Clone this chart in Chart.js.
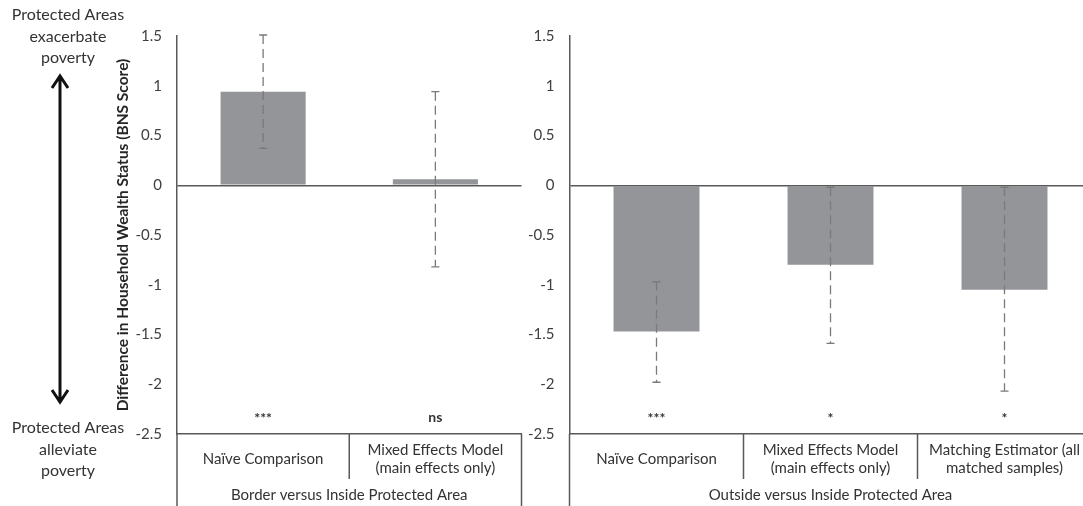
<!DOCTYPE html>
<html>
<head>
<meta charset="utf-8">
<script src="https://cdn.jsdelivr.net/npm/chart.js@4.4.0/dist/chart.umd.min.js"></script>
<style>
  html, body { margin: 0; padding: 0; background: #fff; overflow: hidden; }
  #wrap { position: relative; width: 1083px; height: 506px; overflow: hidden; }
  #left { position: absolute; left: 0; top: 0; }
  #right { position: absolute; left: 525px; top: 0; }
</style>
</head>
<body>
<div id="wrap">
  <canvas id="left" width="530" height="506"></canvas>
  <canvas id="right" width="600" height="506"></canvas>
</div>
<script>
// left panel: border versus inside
var leftCategories = ['Naïve Comparison', ['Mixed Effects Model', '(main effects only)']];
var leftValues = [0.94, 0.06];
var leftErrLow = [0.37, -0.82];
var leftErrHigh = [1.51, 0.94];
var leftSig = ['***', 'ns'];
var leftGroup = 'Border versus Inside Protected Area';

// right panel: outside versus inside
var rightCategories = ['Naïve Comparison', ['Mixed Effects Model', '(main effects only)'], ['Matching Estimator (all', 'matched samples)']];
var rightValues = [-1.47, -0.80, -1.05];
var rightErrLow = [-1.98, -1.59, -2.07];
var rightErrHigh = [-0.97, -0.02, -0.02];
var rightSig = ['***', '*', '*'];
var rightGroup = 'Outside versus Inside Protected Area';

var yMin = -2.5, yMax = 1.5, yStep = 0.5;
var sigLevel = -2.32;

var FONT = 'Lato, "Open Sans", sans-serif';
var LINE = '#595959';
var TEXT = '#333333';

var extrasPlugin = {
  id: 'extras',
  afterDraw: function (chart, args, o) {
    var ctx = chart.ctx, x = chart.scales.x, y = chart.scales.y, a = chart.chartArea;
    ctx.save();

    // error bars
    ctx.strokeStyle = '#7a7a7a';
    ctx.lineWidth = 1.3;
    o.low.forEach(function (lo, i) {
      var px = x.getPixelForValue(i);
      var y1 = y.getPixelForValue(lo), y2 = y.getPixelForValue(o.high[i]);
      ctx.setLineDash([9, 5]);
      ctx.beginPath(); ctx.moveTo(px, y2); ctx.lineTo(px, y1); ctx.stroke();
      ctx.setLineDash([]);
      ctx.beginPath();
      ctx.moveTo(px - 4, y1); ctx.lineTo(px + 4, y1);
      ctx.moveTo(px - 4, y2); ctx.lineTo(px + 4, y2);
      ctx.stroke();
    });

    // significance marks
    ctx.fillStyle = TEXT;
    ctx.textAlign = 'center';
    ctx.textBaseline = 'middle';
    o.sig.forEach(function (s, i) {
      ctx.font = 'bold 14px ' + FONT;
      ctx.fillText(s, x.getPixelForValue(i), y.getPixelForValue(sigLevel) + (s === 'ns' ? 1 : 2));
    });

    // table lines below the plot
    ctx.strokeStyle = LINE;
    ctx.lineWidth = 1.5;
    ctx.beginPath();
    ctx.moveTo(a.left, a.bottom); ctx.lineTo(a.left, chart.height);
    ctx.moveTo(a.right, a.bottom); ctx.lineTo(a.right, chart.height);
    for (var i = 1; i < o.low.length; i++) {
      var px = (x.getPixelForValue(i - 1) + x.getPixelForValue(i)) / 2;
      ctx.moveTo(px, a.bottom); ctx.lineTo(px, a.bottom + 45);
    }
    ctx.stroke();

    ctx.font = '15px ' + FONT;
    ctx.fillStyle = TEXT;
    ctx.fillText(o.group, (a.left + a.right) / 2, 495);

    // side annotation (left panel only)
    if (o.annot) {
      ctx.font = '16px ' + FONT;
      ['Protected Areas', 'exacerbate', 'poverty'].forEach(function (t, k) {
        ctx.fillText(t, 68, 15 + k * 21.5);
      });
      ['Protected Areas', 'alleviate', 'poverty'].forEach(function (t, k) {
        ctx.fillText(t, 68, 428 + k * 21.5);
      });
      ctx.strokeStyle = '#111';
      ctx.lineWidth = 3;
      ctx.beginPath();
      ctx.moveTo(60, 76); ctx.lineTo(60, 402);
      ctx.moveTo(52, 88); ctx.lineTo(60, 76); ctx.lineTo(68, 88);
      ctx.moveTo(52, 390); ctx.lineTo(60, 402); ctx.lineTo(68, 390);
      ctx.stroke();
    }
    ctx.restore();
  }
};

function makeChart(id, cats, vals, low, high, sig, group, opt) {
  return new Chart(document.getElementById(id), {
    type: 'bar',
    data: {
      labels: cats,
      datasets: [{
        data: vals,
        backgroundColor: '#939598',
        borderWidth: 0,
        barPercentage: 0.494,
        categoryPercentage: 1
      }]
    },
    options: {
      responsive: false,
      animation: false,
      devicePixelRatio: 1,
      layout: { padding: { left: opt.padLeft, right: opt.padRight, top: 36, bottom: 0 } },
      plugins: {
        legend: { display: false },
        tooltip: { enabled: false },
        extras: { low: low, high: high, sig: sig, group: group, annot: opt.annot }
      },
      scales: {
        x: {
          grid: { display: false, drawTicks: false },
          border: { display: true, color: LINE, width: 1.5 },
          ticks: {
            color: TEXT, font: { family: FONT, size: 15 },
            padding: 16, crossAlign: 'center', maxRotation: 0, autoSkip: false
          },
          afterFit: function (s) { s.height = 72; }
        },
        y: {
          min: yMin, max: yMax,
          ticks: {
            stepSize: yStep, color: '#404040', padding: 15,
            font: { family: FONT, size: 15 },
            callback: function (v) { return String(v); }
          },
          grid: {
            drawTicks: false,
            lineWidth: 1.5,
            color: function (c) { return c.tick && c.tick.value === 0 ? LINE : 'rgba(0,0,0,0)'; }
          },
          border: { display: true, color: LINE, width: 1.5 },
          title: {
            display: opt.annot,
            text: 'Difference in Household Wealth Status (BNS Score)',
            color: '#262626',
            font: { family: FONT, size: 15.5, weight: 'bold' },
            padding: { top: 4, bottom: 0 }
          },
          afterFit: function (s) { s.width = opt.yWidth; }
        }
      }
    },
    plugins: [extrasPlugin]
  });
}

makeChart('left', leftCategories, leftValues, leftErrLow, leftErrHigh, leftSig, leftGroup,
  { padLeft: 110, padRight: 8.5, yWidth: 67, annot: true });
makeChart('right', rightCategories, rightValues, rightErrLow, rightErrHigh, rightSig, rightGroup,
  { padLeft: 0, padRight: 33.5, yWidth: 44.5, annot: false });
</script>
</body>
</html>
